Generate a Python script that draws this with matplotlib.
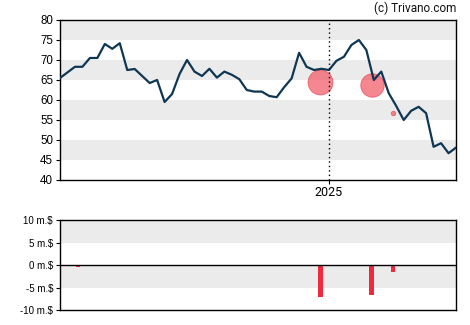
import matplotlib
matplotlib.use("Agg")
import matplotlib.pyplot as plt
import numpy as np
import pandas as pd

# Weekly closing prices
start_date = "2024-04-24"
prices = [65.5, 66.9, 68.3, 68.3, 70.5, 70.5, 74.0, 72.8, 74.2, 67.5,
          67.75, 66.0, 64.25, 65.0, 59.5, 61.5, 66.5, 70.0, 67.1, 66.0,
          67.8, 65.6, 67.1, 66.3, 65.2, 62.5, 62.1, 62.1, 61.0, 60.7,
          63.2, 65.4, 71.8, 68.3, 67.5, 67.8, 67.5, 69.8, 70.8, 73.75,
          75.0, 72.5, 65.0, 67.1, 61.7, 58.5, 55.0, 57.3, 58.3, 56.7,
          48.3, 49.2, 46.7, 48.1]
dates = pd.date_range(start_date, periods=len(prices), freq="7D")

# Insider transactions: date, price, net value (million $)
trade_dates = pd.to_datetime(["2024-05-11", "2024-12-24", "2025-02-10", "2025-03-02"])
trade_prices = [None, 64.6, 63.75, 56.7]
trade_values = [-0.3, -7.0, -6.6, -1.5]

price_ticks = [40, 45, 50, 55, 60, 65, 70, 75, 80]
flow_ticks = [-10, -5, 0, 5, 10]
flow_labels = ["-10 m.$", "-5 m.$", "0 m.$", "5 m.$", "10 m.$"]
year_marker = pd.Timestamp("2025-01-01")

W, H = 470, 325
fig = plt.figure(figsize=(W / 100, H / 100), dpi=100)
ax = fig.add_axes([60 / W, 1 - 180 / H, 396 / W, 160 / H])
ax2 = fig.add_axes([60 / W, 1 - 310.3 / H, 396 / W, 90 / H])

band = "#ebebeb"
line_col = "#0f3652"
font = ["Liberation Sans", "DejaVu Sans"]
rfont = ["Roboto", "DejaVu Sans"]

# price panel
for lo in (45, 55, 65, 75):
    ax.axhspan(lo, lo + 5, color=band, lw=0, zorder=0)
ax.plot(dates, prices, color=line_col, lw=1.6, zorder=3, solid_joinstyle="round")
ax.axvline(year_marker, color="black", lw=1.0, ls=(0, (1, 2.2)), zorder=4)

for d, p, v in zip(trade_dates, trade_prices, trade_values):
    if p is None:
        continue
    diam_px = 3.7 * abs(v) - 1
    s = (diam_px * 0.72) ** 2
    ax.scatter([d], [p], s=s, color="#f05560", alpha=0.7,
               edgecolors="#e8404c", linewidths=0.6, zorder=2)

ax.set_ylim(40, 80)
ax.set_xlim(dates[0], dates[-1])
ax.set_yticks(price_ticks)
ax.set_yticklabels([str(t) for t in price_ticks], fontsize=8.3, family=font)
ax.set_xticks([year_marker])
ax.set_xticklabels(["2025"], fontsize=9, family=rfont)
ax.tick_params(axis="y", length=3, width=0.8, pad=2, colors="black")
ax.tick_params(axis="x", length=3, width=0.8, pad=1.5)
for sp in ax.spines.values():
    sp.set_linewidth(1.0)

fig.text(456 / W, 1 - 8 / H, "(c) Trivano.com", ha="right", va="center",
         fontsize=8.5, family=rfont, color="#111111")

# transaction panel
for lo in (-5, 5):
    ax2.axhspan(lo, lo + 5, color=band, lw=0, zorder=0)
ax2.axhline(0, color="black", lw=1.0, zorder=3)
ax2.bar(trade_dates, trade_values, width=4.4, color="#f02a3c", zorder=2)
ax2.set_ylim(-10, 10)
ax2.set_xlim(dates[0], dates[-1])
ax2.set_yticks(flow_ticks)
ax2.set_yticklabels(flow_labels, fontsize=7, family=font)
ax2.set_xticks([])
ax2.tick_params(axis="y", length=3, width=0.8, pad=2)
for sp in ax2.spines.values():
    sp.set_linewidth(1.0)

fig.savefig("out.png", dpi=100)
